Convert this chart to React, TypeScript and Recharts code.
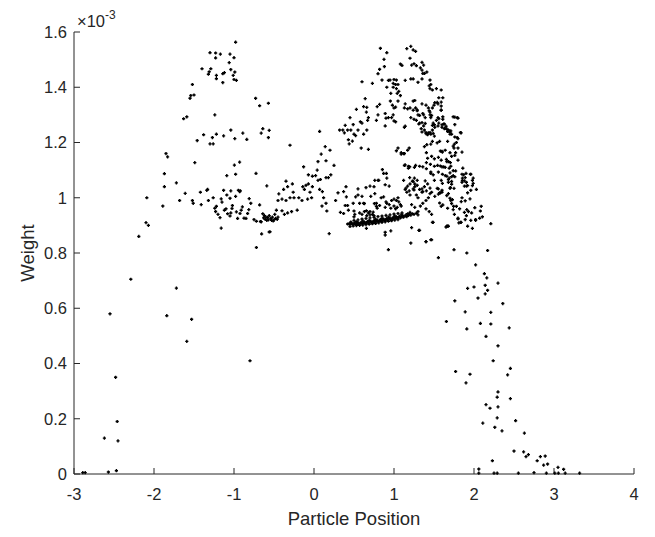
import React from 'react';
import { ScatterChart, Scatter, XAxis, YAxis } from 'recharts';

// particle positions / weights (weights in units of 1e-3)
const leftRise: [number, number][] = [
  [-2.89, 0.005], [-2.86, 0.005], [-2.62, 0.13], [-2.57, 0.007], [-2.55, 0.58], [-2.48, 0.35],
  [-2.47, 0.012], [-2.46, 0.19], [-2.45, 0.12], [-2.29, 0.705], [-2.19, 0.86], [-2.1, 0.91],
  [-2.07, 0.9], [-2.09, 1.0], [-1.89, 0.97], [-1.84, 0.573], [-1.72, 0.673], [-1.68, 0.99],
  [-1.61, 1.016], [-1.59, 0.48], [-1.53, 0.56], [-1.52, 0.99], [-1.51, 0.98], [-1.87, 1.04],
  [-1.87, 1.087], [-1.72, 1.054], [-1.85, 1.16], [-1.83, 1.148], [-0.8, 0.41], [-0.72, 0.82],
];

const leftPeak: [number, number][] = [
  [-1.63, 1.286], [-1.59, 1.293], [-1.49, 1.127], [-1.55, 1.36], [-1.54, 1.37], [-1.5, 1.372],
  [-1.52, 1.41], [-1.46, 1.207], [-1.38, 1.228], [-1.4, 1.467], [-1.32, 1.447], [-1.31, 1.456],
  [-1.29, 1.467], [-1.3, 1.525], [-1.23, 1.524], [-1.17, 1.52], [-1.23, 1.506], [-1.22, 1.443],
  [-1.22, 1.431], [-1.24, 1.3], [-1.3, 1.195], [-1.26, 1.195], [-1.27, 1.218], [-1.22, 1.23],
  [-1.14, 1.449], [-1.12, 1.453], [-1.14, 1.417], [-1.13, 1.224], [-1.09, 1.08], [-1.05, 1.52],
  [-1.06, 1.489], [-1.04, 1.464], [-1.01, 1.443], [-0.99, 1.455], [-1.0, 1.507], [-1.0, 1.428],
  [-0.97, 1.425], [-0.98, 1.563], [-1.04, 1.245], [-0.99, 1.214], [-0.89, 1.234], [-0.84, 1.211],
  [-0.995, 1.118], [-0.93, 1.129], [-0.98, 1.085], [-0.73, 1.36], [-0.68, 1.333], [-0.57, 1.342],
  [-0.64, 1.25], [-0.66, 1.234], [-0.57, 1.218], [-0.56, 1.244], [-0.725, 1.088], [-0.59, 1.043],
  [-0.44, 1.014],
];

const leftCluster: [number, number][] = [
  [-1.42, 1.02], [-1.41, 0.975], [-1.33, 1.03], [-1.32, 0.99], [-1.26, 1.0], [-1.34, 1.027],
  [-1.24, 0.962], [-1.22, 0.969], [-1.23, 0.95], [-1.2, 0.94], [-1.175, 0.928], [-1.16, 0.89],
  [-1.16, 0.996], [-1.15, 0.984], [-1.13, 1.027], [-1.12, 0.955], [-1.1, 0.96], [-1.08, 0.942],
  [-1.05, 0.934], [-1.04, 0.945], [-1.025, 0.961], [-1.02, 0.972], [-0.97, 0.949], [-0.955, 0.925],
  [-0.925, 0.943], [-0.91, 0.955], [-0.895, 0.967], [-0.875, 0.926], [-0.85, 0.925], [-0.83, 0.943],
  [-0.815, 0.957], [-0.79, 0.98], [-0.81, 0.997], [-0.93, 1.022], [-0.98, 1.005], [-1.04, 1.025],
  [-1.09, 1.01], [-1.05, 0.998], [-0.945, 1.027], [-0.92, 1.025], [-0.75, 0.921], [-0.72, 0.915],
  [-0.66, 0.913], [-0.655, 0.869], [-0.56, 0.876], [-0.64, 0.942], [-0.62, 0.935], [-0.6, 0.93],
  [-0.58, 0.928], [-0.56, 0.935], [-0.54, 0.925], [-0.52, 0.93], [-0.5, 0.92], [-0.48, 0.925],
  [-0.49, 0.94], [-0.47, 0.955], [-0.68, 0.974], [-0.67, 0.914], [-0.61, 0.922], [-0.63, 0.927],
  [-0.59, 0.918], [-0.57, 0.92], [-0.53, 0.918], [-0.51, 0.916], [-0.46, 0.922], [-0.45, 0.93],
  [-0.55, 0.877],
];

const middle: [number, number][] = [
  [-0.4, 0.953], [-0.37, 0.94], [-0.33, 0.945], [-0.28, 0.95], [-0.21, 0.955], [-0.45, 0.99],
  [-0.4, 0.995], [-0.35, 0.99], [-0.3, 1.0], [-0.25, 1.0], [-0.19, 1.0], [-0.38, 1.03],
  [-0.33, 1.04], [-0.35, 1.06], [-0.27, 1.05], [-0.26, 1.02], [-0.14, 1.04], [-0.1, 1.045],
  [-0.12, 1.03], [-0.07, 1.05], [-0.05, 1.02], [-0.02, 1.04], [-0.03, 1.0], [-0.08, 0.995],
  [-0.15, 0.99], [-0.13, 1.112], [-0.07, 1.083], [-0.02, 1.078], [0.02, 1.08], [0.05, 1.063],
  [0.08, 1.066], [0.15, 1.073], [0.18, 1.073], [0.21, 1.083], [0.25, 1.117], [0.05, 1.131],
  [0.09, 1.158], [0.04, 1.1], [0.14, 1.185], [0.2, 1.172], [0.15, 1.134], [0.07, 1.24],
  [-0.3, 1.19], [0.07, 1.03], [0.12, 1.0], [0.1, 0.97], [0.15, 0.98], [0.16, 0.952], [0.19, 0.87],
  [0.105, 1.022], [0.3, 1.018], [0.27, 0.99], [0.37, 1.022], [0.4, 1.04], [0.405, 1.003],
  [0.39, 0.972], [0.43, 0.955], [0.5, 0.952], [0.49, 0.98], [0.52, 1.003], [0.55, 1.032],
  [0.55, 1.01], [0.6, 1.005], [0.57, 0.98], [0.62, 0.98], [0.65, 1.037], [0.7, 1.042],
  [0.71, 1.005], [0.75, 1.04], [0.76, 1.015], [0.78, 0.98], [0.8, 1.063], [0.82, 0.972],
  [0.855, 1.102], [0.87, 1.088], [0.905, 1.088], [0.91, 1.071], [0.94, 1.042], [0.91, 0.98],
  [0.89, 0.965], [0.42, 0.972], [0.63, 0.979], [0.33, 0.947], [0.37, 0.943], [0.51, 0.94],
  [0.5, 0.931], [0.655, 0.953], [0.68, 0.945], [0.7, 0.95], [0.73, 0.94], [0.75, 0.935],
  [0.76, 1.063], [0.81, 1.063], [0.89, 1.047], [0.755, 0.979], [0.78, 0.969], [0.79, 0.962],
  [0.655, 0.889], [0.89, 0.875], [0.89, 0.865], [0.96, 0.88], [0.93, 0.812], [0.84, 1.0],
  [0.87, 1.003], [0.9, 0.985], [0.94, 0.975], [0.97, 0.99], [1.0, 0.995], [1.05, 1.0],
  [1.06, 0.985], [1.08, 0.975], [1.04, 0.965], [1.02, 0.96], [0.96, 0.962], [1.0, 0.97],
  [1.03, 0.99], [1.09, 0.97],
];

const upperMiddle: [number, number][] = [
  [0.83, 1.541], [0.91, 1.525], [0.875, 1.501], [1.16, 1.54], [1.21, 1.548], [1.24, 1.535],
  [1.27, 1.53], [1.2, 1.505], [1.22, 1.48], [1.25, 1.485], [1.28, 1.478], [1.08, 1.484],
  [1.1, 1.479], [1.35, 1.49], [1.37, 1.48], [1.33, 1.47], [1.35, 1.462], [1.41, 1.455],
  [1.36, 1.45], [1.38, 1.45], [0.82, 1.465], [0.8, 1.449], [0.88, 1.475], [0.6, 1.42],
  [0.73, 1.414], [0.85, 1.426], [0.93, 1.425], [0.95, 1.426], [1.0, 1.428], [1.03, 1.426],
  [0.99, 1.414], [1.02, 1.41], [1.05, 1.41], [1.14, 1.425], [1.21, 1.43], [1.24, 1.43],
  [1.3, 1.418], [1.35, 1.43], [1.45, 1.426], [1.46, 1.41], [1.44, 1.405], [1.45, 1.395],
  [1.48, 1.39], [1.53, 1.395], [0.91, 1.4], [0.99, 1.4], [1.03, 1.395], [1.06, 1.385],
  [1.04, 1.378], [0.96, 1.378], [0.64, 1.359], [0.53, 1.32], [0.62, 1.33], [0.66, 1.327],
  [0.655, 1.31], [0.68, 1.29], [0.79, 1.33], [0.82, 1.338], [0.8, 1.3], [0.89, 1.305],
  [0.9, 1.288], [0.955, 1.35], [0.98, 1.335], [1.0, 1.325], [1.02, 1.328], [1.05, 1.35],
  [1.08, 1.37], [0.99, 1.3], [0.97, 1.29], [1.0, 1.278], [1.02, 1.275], [1.14, 1.34],
  [1.13, 1.325], [1.17, 1.322], [1.2, 1.325], [1.21, 1.29], [1.24, 1.35], [1.26, 1.352],
  [1.27, 1.325], [1.29, 1.318], [1.3, 1.3], [1.32, 1.298], [1.35, 1.34], [1.4, 1.335],
  [1.43, 1.325], [1.44, 1.315], [1.45, 1.3], [1.48, 1.325], [1.5, 1.335], [1.51, 1.344],
  [1.54, 1.345], [1.55, 1.34], [1.56, 1.362], [1.55, 1.29], [1.53, 1.28], [1.56, 1.27],
  [1.49, 1.27], [1.46, 1.29], [1.39, 1.29], [1.37, 1.3], [0.45, 1.29], [0.39, 1.262],
  [0.36, 1.245], [0.32, 1.245], [0.38, 1.235], [0.42, 1.245], [0.46, 1.245], [0.5, 1.23],
  [0.49, 1.265], [0.55, 1.245], [0.58, 1.275], [0.6, 1.27], [0.67, 1.28], [0.62, 1.23],
  [0.66, 1.245], [0.43, 1.21], [0.44, 1.195], [0.48, 1.205], [0.52, 1.225], [0.59, 1.18],
  [0.68, 1.175], [0.78, 1.28], [0.89, 1.26], [0.93, 1.29], [1.13, 1.255],
];

const rightBody: [number, number][] = [
  [1.28, 1.28], [1.32, 1.27], [1.37, 1.26], [1.38, 1.245], [1.4, 1.232], [1.42, 1.228],
  [1.43, 1.235], [1.46, 1.23], [1.48, 1.245], [1.51, 1.255], [1.55, 1.26], [1.63, 1.25],
  [1.66, 1.248], [1.67, 1.24], [1.72, 1.23], [1.69, 1.24], [1.76, 1.292], [1.79, 1.29],
  [1.78, 1.2], [1.75, 1.18], [1.8, 1.18], [1.05, 1.18], [1.03, 1.17], [1.09, 1.158],
  [1.13, 1.16], [1.19, 1.18], [1.17, 1.172], [1.13, 1.117], [1.18, 1.114], [1.14, 1.03],
  [1.16, 1.02], [1.19, 1.025], [1.2, 1.01], [1.15, 1.035], [1.25, 1.028], [1.28, 1.01],
  [1.3, 1.0], [1.26, 1.04], [1.12, 1.063], [1.17, 1.042], [1.2, 1.05], [1.23, 1.06],
  [1.26, 1.05], [1.29, 1.045], [1.32, 1.03], [1.35, 1.02], [1.38, 1.04], [1.42, 1.05],
  [1.45, 1.035], [1.47, 1.02], [1.43, 1.0], [1.4, 0.99], [1.36, 0.98], [1.33, 0.97],
  [1.4, 0.96], [1.44, 0.95], [1.47, 0.94], [1.3, 0.95], [1.26, 0.965], [1.22, 0.975],
  [1.24, 1.317], [1.29, 1.315], [1.36, 1.305], [1.45, 1.31], [1.47, 1.298], [1.59, 1.317],
  [1.56, 1.286], [1.61, 1.284], [1.62, 1.267], [1.74, 1.293], [1.8, 1.288], [1.25, 1.284],
  [1.31, 1.267], [1.35, 1.272], [1.39, 1.269], [1.48, 1.262], [1.505, 1.264], [1.6, 1.264],
  [1.65, 1.259], [1.68, 1.245], [1.7, 1.238], [1.34, 1.25], [1.35, 1.238], [1.4, 1.236],
  [1.45, 1.236], [1.49, 1.233], [1.505, 1.223], [1.83, 1.236], [1.8, 1.214], [1.14, 1.259],
  [1.59, 1.39], [1.61, 1.362], [1.59, 1.346], [1.59, 1.332], [1.59, 1.317], [1.61, 1.293],
  [1.63, 1.267], [1.6, 1.255], [1.65, 1.252], [1.71, 1.242], [1.7, 1.23], [1.76, 1.265],
  [1.84, 1.235], [1.76, 1.22], [1.79, 1.218], [1.67, 1.204], [1.09, 1.163], [1.12, 1.16],
  [1.14, 1.119], [1.18, 1.107], [1.255, 1.11], [1.38, 1.185], [1.41, 1.192], [1.46, 1.194],
  [1.48, 1.204], [1.54, 1.199], [1.57, 1.204], [1.6, 1.168], [1.64, 1.172], [1.74, 1.187],
  [1.755, 1.194], [1.7, 1.163], [1.72, 1.15], [1.77, 1.163], [1.405, 1.163], [1.42, 1.143],
  [1.47, 1.15], [1.505, 1.141], [1.555, 1.146], [1.59, 1.136], [1.655, 1.139], [1.68, 1.131],
  [1.705, 1.127], [1.405, 1.127], [1.455, 1.121], [1.505, 1.114], [1.545, 1.117], [1.6, 1.112],
  [1.64, 1.11], [1.69, 1.107], [1.74, 1.098], [1.46, 1.093], [1.49, 1.083], [1.555, 1.093],
  [1.605, 1.085], [1.64, 1.08], [1.7, 1.09], [1.74, 1.08], [1.85, 1.085], [1.955, 1.085],
  [1.196, 1.073], [1.255, 1.071], [1.24, 1.059], [1.29, 1.063], [1.39, 1.061], [1.505, 1.063],
  [1.59, 1.063], [1.68, 1.066], [1.72, 1.059], [1.855, 1.063], [1.905, 1.056], [1.99, 1.071],
  [1.98, 1.044], [1.24, 1.032], [1.54, 1.034], [1.7, 1.034], [1.58, 1.169], [1.605, 1.165],
  [1.66, 1.131], [1.76, 1.153], [1.8, 1.136], [1.85, 1.165], [1.58, 1.115], [1.62, 1.112],
  [1.71, 1.114], [1.77, 1.097], [1.86, 1.107], [1.87, 1.083], [1.9, 1.088], [1.89, 1.073],
  [1.96, 1.085], [1.855, 1.071], [1.85, 1.056], [1.88, 1.042], [1.92, 1.044], [1.98, 1.063],
  [1.99, 1.052], [2.03, 1.03], [1.96, 1.027], [1.66, 1.078], [1.69, 1.071], [1.72, 1.076],
  [1.76, 1.076], [1.75, 1.034], [1.605, 1.052], [1.58, 1.018], [1.6, 1.02], [1.66, 1.008],
  [1.7, 0.998], [1.71, 0.99], [1.73, 0.993], [1.59, 0.969], [1.74, 0.957], [1.84, 0.986],
  [1.82, 0.96], [1.91, 0.957], [1.93, 0.95], [1.95, 0.996], [1.97, 0.945], [2.01, 0.964],
  [2.09, 0.969], [2.08, 0.952], [2.105, 0.931], [2.07, 0.926], [2.02, 0.921], [1.96, 0.918],
  [1.84, 0.911], [1.8, 0.923], [1.67, 0.897], [1.98, 0.889], [2.21, 0.906], [1.405, 1.105],
  [1.46, 1.088], [1.32, 1.114], [1.36, 1.112], [1.196, 1.112], [1.27, 1.117], [1.35, 1.032],
  [1.36, 1.022], [1.405, 1.025], [1.45, 1.015], [1.51, 1.005], [1.555, 1.013], [1.78, 0.969],
  [1.85, 1.0], [1.555, 1.032], [1.57, 1.018], [1.6, 1.027], [1.68, 1.056], [1.705, 1.037],
  [1.72, 1.049], [1.68, 1.015], [1.72, 0.979], [1.745, 0.969], [1.57, 0.981], [1.61, 0.974],
  [1.67, 0.962], [1.755, 0.94], [1.8, 0.926], [1.81, 0.909], [1.88, 1.061], [1.905, 1.042],
  [1.92, 1.018], [1.89, 0.989], [1.88, 0.947], [1.905, 0.935], [1.89, 0.921], [1.92, 0.897],
  [1.22, 0.892], [1.31, 0.882], [1.21, 0.836], [1.4, 0.841], [1.46, 0.848], [1.48, 0.911],
  [1.66, 0.897],
];

const band: [number, number][] = [
  [0.42, 0.905], [0.44, 0.906], [0.45, 0.904], [0.47, 0.908], [0.48, 0.905], [0.5, 0.906],
  [0.51, 0.909], [0.52, 0.904], [0.54, 0.907], [0.55, 0.91], [0.56, 0.905], [0.58, 0.908],
  [0.59, 0.911], [0.6, 0.906], [0.62, 0.909], [0.63, 0.912], [0.64, 0.907], [0.66, 0.91],
  [0.67, 0.914], [0.68, 0.908], [0.7, 0.912], [0.71, 0.915], [0.72, 0.91], [0.74, 0.913],
  [0.75, 0.917], [0.76, 0.912], [0.78, 0.915], [0.79, 0.919], [0.8, 0.913], [0.82, 0.917],
  [0.83, 0.921], [0.84, 0.915], [0.86, 0.919], [0.87, 0.923], [0.88, 0.917], [0.9, 0.921],
  [0.91, 0.925], [0.92, 0.919], [0.94, 0.923], [0.95, 0.927], [0.96, 0.921], [0.98, 0.925],
  [0.99, 0.929], [1.0, 0.923], [1.02, 0.927], [1.03, 0.931], [1.04, 0.925], [1.06, 0.929],
  [1.07, 0.933], [1.08, 0.927], [1.1, 0.931], [1.11, 0.935], [1.12, 0.93], [1.14, 0.934],
  [1.15, 0.938], [1.16, 0.932], [1.18, 0.936], [1.19, 0.94], [1.21, 0.937], [1.23, 0.942],
  [1.25, 0.94], [0.46, 0.912], [0.53, 0.913], [0.61, 0.916], [0.69, 0.918], [0.77, 0.922],
  [0.85, 0.926], [0.93, 0.93], [1.01, 0.934], [1.09, 0.938], [1.17, 0.942],
  [0.45, 0.896], [0.49, 0.898], [0.53, 0.899], [0.57, 0.9], [0.61, 0.901], [0.65, 0.903],
  [0.69, 0.904], [0.73, 0.906], [0.77, 0.907], [0.81, 0.909], [0.85, 0.911], [0.89, 0.913],
  [0.93, 0.915], [0.97, 0.917], [1.01, 0.919], [1.05, 0.921],
  [0.5, 0.918], [0.55, 0.92], [0.6, 0.923], [0.65, 0.925], [0.7, 0.927], [0.75, 0.929],
  [0.8, 0.932], [0.85, 0.934], [0.9, 0.936], [0.95, 0.938], [1.0, 0.941], [1.05, 0.943],
  [1.1, 0.945], [1.2, 0.947], [1.28, 0.944], [1.3, 0.938],
  [0.57, 0.945], [0.6, 0.94], [0.63, 0.95], [0.66, 0.935], [0.7, 0.938], [0.74, 0.948],
];

const rightTail: [number, number][] = [
  [1.32, 0.882], [1.49, 0.911], [1.65, 0.894], [1.68, 0.897], [1.83, 0.911], [2.02, 0.918],
  [1.4, 0.841], [1.47, 0.848], [1.555, 0.783], [1.75, 0.812], [1.91, 0.8], [2.17, 0.809],
  [2.02, 0.757], [2.13, 0.725], [2.16, 0.71], [2.3, 0.691], [1.92, 0.672], [2.0, 0.677],
  [2.14, 0.683], [2.17, 0.665], [2.14, 0.652], [2.05, 0.637], [1.76, 0.627], [2.36, 0.617],
  [1.89, 0.587], [2.21, 0.585], [1.655, 0.552], [2.08, 0.545], [2.21, 0.543], [1.91, 0.525],
  [2.44, 0.529], [2.15, 0.498], [2.3, 0.464], [2.24, 0.41], [2.455, 0.382], [2.42, 0.359],
  [1.77, 0.371], [1.95, 0.361], [1.9, 0.33], [2.3, 0.297], [2.29, 0.278], [2.455, 0.273],
  [2.15, 0.251], [2.2, 0.238], [2.3, 0.243], [2.52, 0.193], [2.11, 0.184], [2.29, 0.203],
  [2.26, 0.169], [2.35, 0.156], [2.63, 0.148], [2.5, 0.083], [2.62, 0.08], [2.68, 0.07],
  [2.65, 0.063], [2.79, 0.048], [2.83, 0.063], [2.89, 0.065], [2.23, 0.048], [2.87, 0.032],
  [2.92, 0.036], [2.06, 0.018], [2.75, 0.005], [3.05, 0.024], [3.12, 0.017], [2.06, 0.003],
  [2.25, 0.003], [2.29, 0.003], [2.555, 0.003], [2.905, 0.003], [3.01, 0.003], [3.055, 0.003],
  [3.14, 0.003], [3.32, 0.003],
];

const xTicks = [-3, -2, -1, 0, 1, 2, 3, 4];
const yTicks = [0, 0.2, 0.4, 0.6, 0.8, 1, 1.2, 1.4, 1.6];

const particles = [leftRise, leftPeak, leftCluster, middle, upperMiddle, rightBody, band, rightTail]
  .flat()
  .map(([position, weight]) => ({ position, weight }));

const FONT = '"Liberation Sans", Arial, Helvetica, sans-serif';
const INK = '#262626';

const Dot = (props: any) => {
  const { cx, cy } = props;
  if (cx == null || cy == null) return null;
  return (
    <path
      d={`M${cx - 1.6},${cy}h3.2M${cx},${cy - 1.6}v3.2`}
      stroke="#000"
      strokeWidth={1.4}
    />
  );
};

const WeightLabel = (props: any) => {
  const { x, y, width, height } = props.viewBox;
  return (
    <g fontFamily={FONT} fill={INK}>
      <text
        transform={`translate(${x + 26},${y + height / 2}) rotate(-90)`}
        textAnchor="middle"
        fontSize={18.5}
      >
        Weight
      </text>
      <text x={x + width + 3} y={y - 5.5} fontSize={16.5}>
        ×10
        <tspan dy={-8} fontSize={12}>
          -3
        </tspan>
      </text>
    </g>
  );
};

export default function App() {
  const tickStyle = { fontSize: 16.5, fontFamily: FONT, fill: INK };
  return (
    <div style={{ width: 647, height: 529 }}>
      <ScatterChart width={647} height={529} margin={{ top: 24, right: 21, bottom: 0, left: 0 }}>
        <XAxis
          dataKey="position"
          type="number"
          domain={[-3, 4]}
          ticks={xTicks}
          height={63}
          tickSize={-6}
          tickMargin={20}
          stroke={INK}
          tick={tickStyle}
          label={{
            value: 'Particle Position',
            position: 'insideBottom',
            offset: 12,
            fontSize: 18.5,
            fontFamily: FONT,
            fill: INK,
          }}
        />
        <XAxis
          xAxisId="top"
          orientation="top"
          type="number"
          domain={[-3, 4]}
          ticks={xTicks}
          height={0}
          tickSize={-6}
          tick={false}
          stroke={INK}
        />
        <YAxis
          dataKey="weight"
          type="number"
          domain={[0, 1.6]}
          ticks={yTicks}
          width={66}
          tickSize={-6}
          tickMargin={13}
          stroke={INK}
          tick={tickStyle}
          label={<WeightLabel />}
        />
        <YAxis
          yAxisId="right"
          orientation="right"
          type="number"
          domain={[0, 1.6]}
          ticks={yTicks}
          width={0}
          tickSize={-6}
          tick={false}
          stroke={INK}
        />
        <Scatter data={particles} shape={<Dot />} isAnimationActive={false} />
      </ScatterChart>
    </div>
  );
}
